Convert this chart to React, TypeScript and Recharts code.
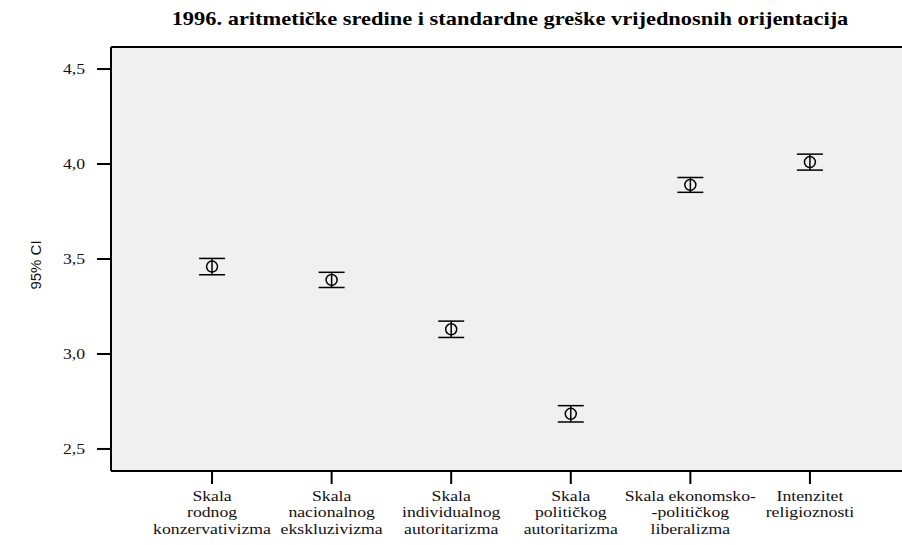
import React from 'react';
import { ComposedChart, Scatter, ErrorBar, XAxis, YAxis, CartesianGrid, ReferenceLine } from 'recharts';

const categories = [
  ['Skala', 'rodnog', 'konzervativizma'],
  ['Skala', 'nacionalnog', 'ekskluzivizma'],
  ['Skala', 'individualnog', 'autoritarizma'],
  ['Skala', 'političkog', 'autoritarizma'],
  ['Skala ekonomsko-', '-političkog', 'liberalizma'],
  ['Intenzitet', 'religioznosti'],
];
const means = [3.46, 3.39, 3.13, 2.685, 3.89, 4.01];
const ciHalf = [0.043, 0.04, 0.043, 0.043, 0.039, 0.042];
const yTicks = [2.5, 3.0, 3.5, 4.0, 4.5];
const xTicks = [1, 2, 3, 4, 5, 6];

const Y_MIN = 2.384;
const Y_MAX = 4.616;

const data = means.map((m, i) => ({ x: i + 1, y: m, err: ciHalf[i] }));

const SERIF = '"Liberation Serif", "Times New Roman", serif';
const STRETCH = 1.18; // the source text is a bit wider than plain Times

const CategoryTick = (props: any) => {
  const { x, y, payload } = props;
  const lines = categories[payload.value - 1] || [];
  return (
    <g transform={`translate(${x},${y}) scale(${STRETCH},1)`}>
      <text x={0} y={0} textAnchor="middle" fontFamily={SERIF} fontSize={15} fill="#111">
        {lines.map((l, i) => (
          <tspan key={i} x={0} dy={i === 0 ? 17 : 16.5}>{l}</tspan>
        ))}
      </text>
    </g>
  );
};

const ValueTick = (props: any) => {
  const { x, y, payload } = props;
  return (
    <g transform={`translate(${x},${y}) scale(${STRETCH},1)`}>
      <text x={0} y={0} dy={5} textAnchor="end" fontFamily={SERIF} fontSize={15} fill="#111">
        {Number(payload.value).toFixed(1).replace('.', ',')}
      </text>
    </g>
  );
};

const MeanMarker = (props: any) => {
  const { cx, cy } = props;
  return <ellipse cx={cx} cy={cy} rx={5.5} ry={5.5} fill="none" stroke="#000" strokeWidth={1.5} />;
};

export default function App() {
  return (
    <div style={{ position: 'absolute', left: 0, top: 0, width: 902, height: 545, background: '#fff' }}>
      <div
        style={{
          position: 'absolute', left: 0, width: 1020, top: 8, textAlign: 'center',
          fontFamily: SERIF, fontWeight: 'bold', fontSize: 19, color: '#000',
          transform: `scaleX(${STRETCH})`, transformOrigin: '510px 0', whiteSpace: 'nowrap',
        }}
      >
        1996. aritmetičke sredine i standardne greške vrijednosnih orijentacija
      </div>
      <div
        style={{
          position: 'absolute', left: 35, top: 265, transform: 'translate(-50%, -50%) rotate(-90deg)',
          fontFamily: '"Liberation Sans", Arial, sans-serif', fontSize: 15, color: '#111', whiteSpace: 'nowrap',
        }}
      >
        95% CI
      </div>
      <ComposedChart width={902} height={545} margin={{ top: 47, right: 0, bottom: 0, left: 0 }} data={data}>
        <CartesianGrid fill="#f0f0f0" horizontal={false} vertical={false} />
        <XAxis
          dataKey="x"
          type="number"
          domain={[0.155, 6.77]}
          ticks={xTicks}
          allowDataOverflow
          axisLine={{ stroke: '#000', strokeWidth: 2 }}
          tickLine={{ stroke: '#000', strokeWidth: 2 }}
          tickSize={13}
          tickMargin={0}
          tick={<CategoryTick />}
          height={74}
          interval={0}
        />
        <YAxis
          dataKey="y"
          type="number"
          domain={[Y_MIN, Y_MAX]}
          ticks={yTicks}
          allowDataOverflow
          width={111}
          axisLine={{ stroke: '#000', strokeWidth: 2 }}
          tickLine={{ stroke: '#000', strokeWidth: 2 }}
          tickSize={14}
          tickMargin={12}
          tick={<ValueTick />}
          interval={0}
        />
        <ReferenceLine y={Y_MAX} stroke="#000" strokeWidth={2} />
        <Scatter data={data} dataKey="y" shape={<MeanMarker />} isAnimationActive={false}>
          <ErrorBar dataKey="err" direction="y" width={13} stroke="#000" strokeWidth={1.5} isAnimationActive={false} />
        </Scatter>
      </ComposedChart>
    </div>
  );
}
